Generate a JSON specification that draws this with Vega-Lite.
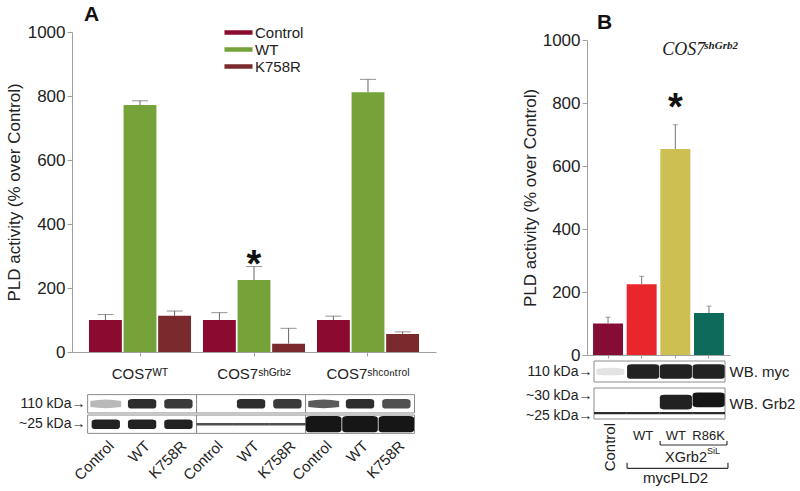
{
  "$schema": "https://vega.github.io/schema/vega-lite/v6.json",
  "padding": {"left": 5, "top": 4, "right": 0, "bottom": 0},
  "config": {
    "font": "Liberation Sans",
    "view": {"stroke": null},
    "axis": {"labelFont": "Liberation Sans", "titleFont": "Liberation Sans", "labelColor": "#222222", "titleColor": "#222222", "domainColor": "#a0a0a0", "tickColor": "#a0a0a0", "titleFontWeight": "normal", "grid": false},
    "legend": {"labelFont": "Liberation Sans"},
    "title": {"font": "Liberation Sans", "color": "#111111"},
    "text": {"font": "Liberation Sans", "color": "#222222"}
  },
  "resolve": {"scale": {"color": "independent"}, "legend": {"color": "independent"}},
  "spacing": 85,
  "hconcat": [
    {
      "spacing": 13,
      "vconcat": [
        {
          "width": 364,
          "height": 320,
          "title": {"text": "A", "anchor": "start", "frame": "group", "fontSize": 21, "fontWeight": "bold", "dx": 12, "offset": -2},
          "data": {"values": [
            {"cell": "COS7ᵂᵀ", "treatment": "Control", "value": 100, "hi": 117},
            {"cell": "COS7ᵂᵀ", "treatment": "WT", "value": 772, "hi": 785},
            {"cell": "COS7ᵂᵀ", "treatment": "K758R", "value": 113, "hi": 128},
            {"cell": "COS7ˢʰᴳʳᵇ²", "treatment": "Control", "value": 100, "hi": 123},
            {"cell": "COS7ˢʰᴳʳᵇ²", "treatment": "WT", "value": 225, "hi": 267, "star": true},
            {"cell": "COS7ˢʰᴳʳᵇ²", "treatment": "K758R", "value": 26, "hi": 74},
            {"cell": "COS7ˢʰᶜᵒⁿᵗʳᵒˡ", "treatment": "Control", "value": 100, "hi": 112},
            {"cell": "COS7ˢʰᶜᵒⁿᵗʳᵒˡ", "treatment": "WT", "value": 812, "hi": 852},
            {"cell": "COS7ˢʰᶜᵒⁿᵗʳᵒˡ", "treatment": "K758R", "value": 56, "hi": 63}
          ]},
          "encoding": {
            "x": {"field": "cell", "type": "nominal", "sort": null, "scale": {"paddingInner": 0.105, "paddingOuter": 0.149}, "axis": {"title": null, "labelAngle": 0, "labelFontSize": 15, "labelPadding": 10, "tickSize": 4, "bandPosition": 0.5}},
            "xOffset": {"field": "treatment", "type": "nominal", "sort": ["Control", "WT", "K758R"], "scale": {"paddingInner": 0.05, "paddingOuter": 0}},
            "y": {"field": "value", "type": "quantitative", "title": "PLD activity (% over Control)", "scale": {"domain": [0, 1000]}, "axis": {"values": [0, 200, 400, 600, 800, 1000], "format": "d", "labelFontSize": 17, "titleFontSize": 17, "tickSize": 5, "labelPadding": 2, "titlePadding": 4}}
          },
          "layer": [
            {"mark": {"type": "bar"}, "encoding": {"color": {"field": "treatment", "type": "nominal", "scale": {"domain": ["Control", "WT", "K758R"], "range": ["#8B0A30", "#76A23A", "#7A2A2D"]}, "legend": {"orient": "none", "legendX": 159, "legendY": -7, "title": null, "symbolType": "M-1.87,-0.3L1.87,-0.3L1.87,0.3L-1.87,0.3Z", "symbolSize": 225, "symbolStrokeWidth": 0, "labelFontSize": 15, "labelColor": "#222222", "labelOffset": 9, "rowPadding": 1}}}},
            {"mark": {"type": "rule", "color": "#666666", "strokeWidth": 1}, "encoding": {"y2": {"field": "hi"}}},
            {"mark": {"type": "tick", "color": "#666666", "size": 16, "thickness": 1}, "encoding": {"y": {"field": "hi", "type": "quantitative", "title": "PLD activity (% over Control)"}}},
            {"transform": [{"filter": "datum.star === true"}], "mark": {"type": "text", "text": "*", "fontSize": 38, "fontWeight": "bold", "baseline": "alphabetic", "dy": 10, "color": "#111111"}, "encoding": {"y": {"field": "hi", "type": "quantitative", "title": "PLD activity (% over Control)"}}}
          ]
        },
        {
          "width": 342.5,
          "height": 40,
          "layer": [
            {
              "data": {"values": [
                {"row": "110 kDa→", "from": 0.5, "to": 3.5}, {"row": "110 kDa→", "from": 3.5, "to": 6.5}, {"row": "110 kDa→", "from": 6.5, "to": 9.5},
                {"row": "~25 kDa→", "from": 0.5, "to": 3.5}, {"row": "~25 kDa→", "from": 3.5, "to": 6.5}, {"row": "~25 kDa→", "from": 6.5, "to": 9.5}
              ]},
              "mark": {"type": "rect", "fill": "#ffffff", "stroke": "#8c8c8c", "strokeWidth": 1},
              "encoding": {
                "x": {"field": "from", "type": "quantitative", "scale": {"domain": [0.07, 9.5], "nice": false, "zero": false}, "axis": {"title": null, "values": [1, 2, 3, 4, 5, 6, 7, 8, 9], "labelExpr": "['Control','WT','K758R'][(datum.value-1)%3]", "labelAngle": -45, "labelOverlap": false, "labelBound": false, "domain": false, "ticks": false, "labelFontSize": 15, "labelPadding": 4}},
                "x2": {"field": "to"},
                "y": {"field": "row", "type": "nominal", "sort": null, "scale": {"domain": ["110 kDa→", "~25 kDa→"], "paddingInner": 0.1, "paddingOuter": 0.03}, "axis": {"title": null, "domain": false, "ticks": false, "labelFontSize": 14, "labelPadding": -13}}
              }
            },
            {
              "data": {"values": [
                {"lane": 1, "row": "110 kDa→", "kind": "smear", "signal": 0.3},
                {"lane": 2, "row": "110 kDa→", "kind": "band", "signal": 0.9},
                {"lane": 3, "row": "110 kDa→", "kind": "band", "signal": 0.85},
                {"lane": 5, "row": "110 kDa→", "kind": "band", "signal": 0.9},
                {"lane": 6, "row": "110 kDa→", "kind": "band", "signal": 0.85},
                {"lane": 7, "row": "110 kDa→", "kind": "smear", "signal": 0.7},
                {"lane": 8, "row": "110 kDa→", "kind": "band", "signal": 0.9},
                {"lane": 9, "row": "110 kDa→", "kind": "band", "signal": 0.75},
                {"lane": 1, "row": "~25 kDa→", "kind": "band", "signal": 0.95},
                {"lane": 2, "row": "~25 kDa→", "kind": "band", "signal": 0.95},
                {"lane": 3, "row": "~25 kDa→", "kind": "band", "signal": 0.95},
                {"lane": 4, "row": "~25 kDa→", "kind": "thin", "signal": 0.75},
                {"lane": 5, "row": "~25 kDa→", "kind": "thin", "signal": 0.75},
                {"lane": 6, "row": "~25 kDa→", "kind": "thin", "signal": 0.75},
                {"lane": 7, "row": "~25 kDa→", "kind": "heavy", "signal": 1},
                {"lane": 8, "row": "~25 kDa→", "kind": "heavy", "signal": 1},
                {"lane": 9, "row": "~25 kDa→", "kind": "heavy", "signal": 1}
              ]},
              "mark": {"type": "point", "filled": true, "size": 1318, "color": "#161616", "strokeWidth": 0},
              "encoding": {
                "x": {"field": "lane", "type": "quantitative", "axis": {"title": null, "values": [1, 2, 3, 4, 5, 6, 7, 8, 9], "labelExpr": "['Control','WT','K758R'][(datum.value-1)%3]", "labelAngle": -45, "labelOverlap": false, "labelBound": false, "domain": false, "ticks": false, "labelFontSize": 15, "labelPadding": 4}},
                "y": {"field": "row", "type": "nominal", "sort": null},
                "shape": {"field": "kind", "type": "nominal", "scale": {"domain": ["band", "thin", "heavy", "smear"], "range": ["M -0.78 -0.12 Q -0.78 -0.26 -0.55 -0.26 L 0.55 -0.26 Q 0.78 -0.26 0.78 -0.12 L 0.78 0.12 Q 0.78 0.26 0.55 0.26 L -0.55 0.26 Q -0.78 0.26 -0.78 0.12 Z", "M -1 -0.07 L 1 -0.07 L 1 0.07 L -1 0.07 Z", "M -0.98 -0.3 Q -0.98 -0.45 -0.7 -0.45 L 0.7 -0.45 Q 0.98 -0.45 0.98 -0.3 L 0.98 0.3 Q 0.98 0.45 0.7 0.45 L -0.7 0.45 Q -0.98 0.45 -0.98 0.3 Z", "M -0.85 -0.15 Q 0 -0.32 0.85 -0.15 L 0.85 0.18 Q 0 0.3 -0.85 0.18 Z"]}, "legend": null},
                "opacity": {"field": "signal", "type": "quantitative", "scale": {"domain": [0, 1], "range": [0, 1]}, "legend": null}
              }
            }
          ]
        }
      ]
    },
    {
      "bounds": "flush",
      "spacing": 6,
      "vconcat": [
        {"width": 1, "height": 2, "data": {"values": []}, "mark": "point", "encoding": {}},
        {
          "width": 143,
          "height": 315,
          "title": {"text": "B", "anchor": "start", "frame": "group", "fontSize": 21, "fontWeight": "bold", "dx": 10, "offset": -2},
          "data": {"values": [
            {"lane": "Control", "value": 100, "hi": 120},
            {"lane": "WT", "value": 225, "hi": 250},
            {"lane": "WT XGrb2", "value": 654, "hi": 731, "star": true},
            {"lane": "R86K XGrb2", "value": 133, "hi": 155}
          ]},
          "encoding": {
            "x": {"field": "lane", "type": "nominal", "sort": null, "scale": {"domain": ["Control", "WT", "WT XGrb2", "R86K XGrb2"], "paddingInner": 0.11, "paddingOuter": 0.18}, "axis": {"title": null, "labels": false, "tickSize": 3, "bandPosition": 0.5}},
            "y": {"field": "value", "type": "quantitative", "title": "PLD activity (% over Control)", "scale": {"domain": [0, 1000]}, "axis": {"values": [0, 200, 400, 600, 800, 1000], "format": "d", "labelFontSize": 17, "titleFontSize": 17, "tickSize": 5, "labelPadding": 2, "titlePadding": 3}}
          },
          "layer": [
            {"mark": {"type": "bar"}, "encoding": {"color": {"field": "lane", "type": "nominal", "scale": {"domain": ["Control", "WT", "WT XGrb2", "R86K XGrb2"], "range": ["#850C35", "#E8262B", "#CDBF52", "#0E6B5B"]}, "legend": null}}},
            {"mark": {"type": "rule", "color": "#777777", "strokeWidth": 1}, "encoding": {"y2": {"field": "hi"}}},
            {"mark": {"type": "tick", "color": "#777777", "size": 5, "thickness": 1}, "encoding": {"y": {"field": "hi", "type": "quantitative", "title": "PLD activity (% over Control)"}}},
            {"transform": [{"filter": "datum.star === true"}], "mark": {"type": "text", "text": "*", "fontSize": 38, "fontWeight": "bold", "baseline": "alphabetic", "dy": -5, "color": "#111111"}, "encoding": {"y": {"field": "hi", "type": "quantitative", "title": "PLD activity (% over Control)"}}},
            {"transform": [{"filter": "datum.star === true"}], "mark": {"type": "text", "text": "COS7", "font": "Liberation Serif", "fontStyle": "italic", "fontSize": 18, "align": "left", "baseline": "alphabetic", "dx": -13, "color": "#222222"}, "encoding": {"y": {"datum": 952, "type": "quantitative", "title": "PLD activity (% over Control)"}}},
            {"transform": [{"filter": "datum.star === true"}], "mark": {"type": "text", "text": "shGrb2", "font": "Liberation Serif", "fontStyle": "italic", "fontWeight": "bold", "fontSize": 11, "align": "left", "baseline": "alphabetic", "dx": 29, "dy": -6, "color": "#222222"}, "encoding": {"y": {"datum": 952, "type": "quantitative", "title": "PLD activity (% over Control)"}}}
          ]
        },
        {
          "width": 138,
          "height": 21,
          "resolve": {"scale": {"y": "independent"}, "axis": {"y": "independent"}},
          "layer": [
            {"data": {"values": [{"from": 0.5, "to": 4.5, "wb": "WB. myc"}]}, "mark": {"type": "rect", "fill": "#ffffff", "stroke": "#8c8c8c", "strokeWidth": 1}, "encoding": {"x": {"field": "from", "type": "quantitative", "scale": {"domain": [0.286, 4.5], "nice": false, "zero": false}, "axis": null}, "x2": {"field": "to"}, "y": {"field": "wb", "type": "nominal", "scale": {"paddingInner": 0, "paddingOuter": 0}, "axis": {"orient": "right", "title": null, "domain": false, "ticks": false, "labelFontSize": 15, "labelPadding": 4}}}},
            {
              "data": {"values": [
                {"lane": 1, "row": "110 kDa→", "kind": "smear", "signal": 0.12},
                {"lane": 2, "row": "110 kDa→", "kind": "heavy", "signal": 0.95},
                {"lane": 3, "row": "110 kDa→", "kind": "heavy", "signal": 0.95},
                {"lane": 4, "row": "110 kDa→", "kind": "heavy", "signal": 0.95}
              ]},
              "mark": {"type": "point", "filled": true, "size": 1073, "color": "#161616", "strokeWidth": 0},
              "encoding": {
                "x": {"field": "lane", "type": "quantitative", "axis": null},
                "y": {"field": "row", "type": "nominal", "scale": {"paddingInner": 0, "paddingOuter": 0}, "axis": {"orient": "left", "title": null, "domain": false, "ticks": false, "labelFontSize": 14, "labelPadding": -5}},
                "shape": {"field": "kind", "type": "nominal", "scale": {"domain": ["band", "thin", "heavy", "smear"], "range": ["M -0.78 -0.12 Q -0.78 -0.26 -0.55 -0.26 L 0.55 -0.26 Q 0.78 -0.26 0.78 -0.12 L 0.78 0.12 Q 0.78 0.26 0.55 0.26 L -0.55 0.26 Q -0.78 0.26 -0.78 0.12 Z", "M -1 -0.07 L 1 -0.07 L 1 0.07 L -1 0.07 Z", "M -0.98 -0.3 Q -0.98 -0.45 -0.7 -0.45 L 0.7 -0.45 Q 0.98 -0.45 0.98 -0.3 L 0.98 0.3 Q 0.98 0.45 0.7 0.45 L -0.7 0.45 Q -0.98 0.45 -0.98 0.3 Z", "M -0.85 -0.15 Q 0 -0.32 0.85 -0.15 L 0.85 0.18 Q 0 0.3 -0.85 0.18 Z"]}, "legend": null},
                "opacity": {"field": "signal", "type": "quantitative", "scale": {"domain": [0, 1], "range": [0, 1]}, "legend": null}
              }
            }
          ]
        },
        {
          "width": 138,
          "height": 31,
          "resolve": {"scale": {"y": "independent"}, "axis": {"y": "independent"}},
          "layer": [
            {"data": {"values": [{"from": 0.5, "to": 4.5, "wb": "WB. Grb2"}]}, "mark": {"type": "rect", "fill": "#ffffff", "stroke": "#8c8c8c", "strokeWidth": 1}, "encoding": {"x": {"field": "from", "type": "quantitative", "scale": {"domain": [0.286, 4.5], "nice": false, "zero": false}, "axis": null}, "x2": {"field": "to"}, "y": {"field": "wb", "type": "nominal", "scale": {"paddingInner": 0, "paddingOuter": 0}, "axis": {"orient": "right", "title": null, "domain": false, "ticks": false, "labelFontSize": 15, "labelPadding": 4}}}},
            {
              "data": {"values": [
                {"lane": 1, "kDa": 25.5, "kind": "thin", "signal": 0.9},
                {"lane": 2, "kDa": 25.5, "kind": "thin", "signal": 0.9},
                {"lane": 3, "kDa": 25.5, "kind": "thin", "signal": 0.9},
                {"lane": 4, "kDa": 25.5, "kind": "thin", "signal": 0.9},
                {"lane": 3, "kDa": 28.4, "kind": "heavy", "signal": 0.95},
                {"lane": 4, "kDa": 29.0, "kind": "heavy", "signal": 1}
              ]},
              "mark": {"type": "point", "filled": true, "size": 1073, "color": "#161616", "strokeWidth": 0},
              "encoding": {
                "x": {"field": "lane", "type": "quantitative", "axis": null},
                "y": {"field": "kDa", "type": "quantitative", "scale": {"domain": [23.95, 32.1], "nice": false, "zero": false}, "axis": {"orient": "left", "title": null, "values": [30, 25], "labelExpr": "datum.value === 30 ? '~30 kDa→' : '~25 kDa→'", "domain": false, "ticks": false, "labelFontSize": 14, "labelPadding": -5, "labelFlush": false}},
                "shape": {"field": "kind", "type": "nominal", "scale": {"domain": ["band", "thin", "heavy", "smear"], "range": ["M -0.78 -0.12 Q -0.78 -0.26 -0.55 -0.26 L 0.55 -0.26 Q 0.78 -0.26 0.78 -0.12 L 0.78 0.12 Q 0.78 0.26 0.55 0.26 L -0.55 0.26 Q -0.78 0.26 -0.78 0.12 Z", "M -1 -0.07 L 1 -0.07 L 1 0.07 L -1 0.07 Z", "M -0.98 -0.3 Q -0.98 -0.45 -0.7 -0.45 L 0.7 -0.45 Q 0.98 -0.45 0.98 -0.3 L 0.98 0.3 Q 0.98 0.45 0.7 0.45 L -0.7 0.45 Q -0.98 0.45 -0.98 0.3 Z", "M -0.85 -0.15 Q 0 -0.32 0.85 -0.15 L 0.85 0.18 Q 0 0.3 -0.85 0.18 Z"]}, "legend": null},
                "opacity": {"field": "signal", "type": "quantitative", "scale": {"domain": [0, 1], "range": [0, 1]}, "legend": null}
              }
            }
          ]
        },
        {
          "width": 138,
          "height": 58,
          "data": {"values": [{}]},
          "layer": [
            {"mark": {"type": "text", "text": "Control", "angle": 270, "align": "right", "baseline": "middle", "fontSize": 15}, "encoding": {"x": {"datum": 1, "type": "quantitative", "scale": {"domain": [0.286, 4.5], "nice": false, "zero": false}, "axis": null}, "y": {"datum": -2, "type": "quantitative", "scale": {"domain": [0, 58], "reverse": true, "nice": false, "zero": false}, "axis": null}}},
            {"data": {"values": [{"lane": 2, "label": "WT"}, {"lane": 3, "label": "WT"}, {"lane": 4, "label": "R86K"}]}, "mark": {"type": "text", "fontSize": 13, "baseline": "alphabetic", "align": "center"}, "encoding": {"x": {"field": "lane", "type": "quantitative"}, "y": {"datum": 15, "type": "quantitative"}, "text": {"field": "label"}}},
            {"mark": {"type": "rule", "color": "#333333", "strokeWidth": 1.2}, "encoding": {"x": {"datum": 2.52, "type": "quantitative"}, "x2": {"datum": 4.56}, "y": {"datum": 20, "type": "quantitative"}}},
            {"mark": {"type": "rule", "color": "#333333", "strokeWidth": 1.2}, "encoding": {"x": {"datum": 2.52, "type": "quantitative"}, "y": {"datum": 16, "type": "quantitative"}, "y2": {"datum": 20}}},
            {"mark": {"type": "rule", "color": "#333333", "strokeWidth": 1.2}, "encoding": {"x": {"datum": 4.56, "type": "quantitative"}, "y": {"datum": 16, "type": "quantitative"}, "y2": {"datum": 20}}},
            {"mark": {"type": "text", "text": "XGrb2", "fontSize": 14.5, "baseline": "alphabetic", "align": "right"}, "encoding": {"x": {"datum": 3.95, "type": "quantitative"}, "y": {"datum": 36.7, "type": "quantitative"}}},
            {"mark": {"type": "text", "text": "SiL", "fontSize": 9, "baseline": "alphabetic", "align": "left"}, "encoding": {"x": {"datum": 3.95, "type": "quantitative"}, "y": {"datum": 29, "type": "quantitative"}}},
            {"mark": {"type": "rule", "color": "#333333", "strokeWidth": 1.2}, "encoding": {"x": {"datum": 1.51, "type": "quantitative"}, "x2": {"datum": 4.59}, "y": {"datum": 43.3, "type": "quantitative"}}},
            {"mark": {"type": "rule", "color": "#333333", "strokeWidth": 1.2}, "encoding": {"x": {"datum": 1.51, "type": "quantitative"}, "y": {"datum": 37.7, "type": "quantitative"}, "y2": {"datum": 43.3}}},
            {"mark": {"type": "rule", "color": "#333333", "strokeWidth": 1.2}, "encoding": {"x": {"datum": 4.59, "type": "quantitative"}, "y": {"datum": 37.7, "type": "quantitative"}, "y2": {"datum": 43.3}}},
            {"mark": {"type": "text", "text": "mycPLD2", "fontSize": 15, "baseline": "alphabetic", "align": "center"}, "encoding": {"x": {"datum": 2.99, "type": "quantitative"}, "y": {"datum": 57.7, "type": "quantitative"}}}
          ]
        }
      ]
    }
  ]
}
